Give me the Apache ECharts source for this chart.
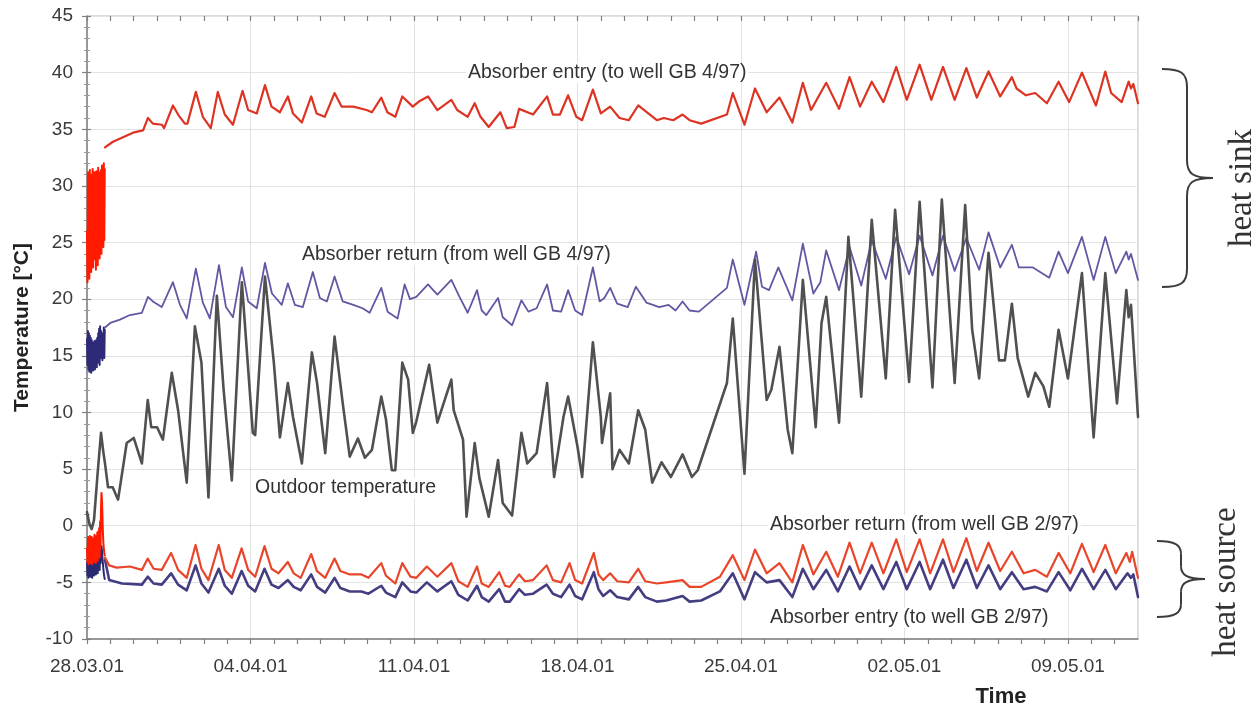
<!DOCTYPE html>
<html>
<head>
<meta charset="utf-8">
<script src="https://cdn.jsdelivr.net/npm/echarts@6/dist/echarts.min.js"></script>
<style>
  html, body { margin: 0; padding: 0; background: #ffffff; }
  #chart { width: 1260px; height: 710px; }
</style>
</head>
<body>
<div id="chart"></div>
<script>
// Time is given in days after 28.03.2001 00:00, temperatures in °C.
const weekLabels = ['28.03.01', '04.04.01', '11.04.01', '18.04.01', '25.04.01', '02.05.01', '09.05.01'];

// Start-up phase: dense, fluctuating readings during the first hours
const startTimes = [0.00,0.02,0.04,0.06,0.08,0.10,0.12,0.14,0.16,0.18,0.20,0.22,0.24,0.26,0.28,0.30,0.32,0.34,0.36,0.38,
  0.40,0.42,0.44,0.46,0.48,0.50,0.52,0.54,0.56,0.58,0.60,0.62,0.64,0.66,0.68,0.70,0.72,0.74,0.76];
const sinkEntryStart = [26.0,21.5,31.2,22.0,30.8,21.8,31.4,23.0,30.6,22.4,31.0,23.2,31.5,22.8,30.9,24.0,31.2,23.5,30.7,22.6,
  31.3,23.8,31.0,23.0,31.6,24.2,30.8,23.6,31.2,24.8,31.4,24.0,31.8,25.0,31.0,24.6,32.0,25.2,31.5];
const sinkReturnStart = [16.5,14.2,17.2,13.8,17.0,13.6,16.8,13.9,16.6,13.5,16.4,14.0,16.2,13.7,16.1,14.1,16.3,13.8,16.0,14.3,
  16.4,14.0,16.6,14.4,17.0,14.6,17.4,14.2,17.6,14.8,17.2,15.0,16.8,14.6,17.0,15.2,17.5,14.8,17.3];
const sourceReturnStart = [-2.0,-3.2,-1.0,-3.4,-1.2,-3.0,-0.9,-3.3,-1.3,-3.1,-1.0,-3.4,-1.4,-2.9,-1.1,-3.2,-0.8,-3.0,-1.2,-3.3,
  -0.9,-2.8,-0.6,-3.1,-0.5,-2.6,-0.2,-2.8,0.4,-1.8,1.5,2.9,2.3,1.0,-0.5,-1.5,-2.0,-2.4,-2.6];
const sourceEntryStart = [-3.2,-4.4,-3.0,-4.6,-3.3,-4.3,-2.9,-4.5,-3.4,-4.2,-3.1,-4.6,-3.5,-4.3,-3.0,-4.4,-3.2,-4.1,-2.8,-4.3,
  -3.3,-4.0,-2.9,-4.2,-3.1,-3.8,-2.7,-3.9,-2.6,-3.3,-2.2,-1.8,-2.2,-2.8,-3.3,-3.8,-4.2,-4.5,-4.7];

// Absorber entry (to well GB 4/97)
const sinkEntry = [[0.77,33.4],[1.11,33.9],[1.54,34.3],[1.97,34.7],[2.4,34.9],[2.61,36.0],[2.82,35.5],[3.21,35.4],[3.3,35.1],
  [3.68,37.1],[3.9,36.3],[4.19,35.5],[4.3,35.5],[4.66,38.3],[4.96,36.1],[5.3,35.1],[5.6,38.3],[5.9,36.3],[6.25,35.4],
  [6.66,38.4],[6.9,36.7],[7.27,36.4],[7.62,38.9],[7.9,37.0],[8.26,36.5],[8.6,37.9],[8.82,36.4],[9.2,35.6],[9.6,37.9],
  [9.83,36.4],[10.18,36.1],[10.6,38.2],[10.9,37.0],[11.4,37.0],[11.97,36.7],[12.2,36.5],[12.6,37.8],[12.86,36.5],
  [13.2,36.1],[13.5,37.9],[13.95,37.0],[14.25,37.5],[14.6,37.9],[15.0,36.7],[15.6,37.6],[15.85,36.7],[16.3,36.1],
  [16.6,37.3],[16.85,36.1],[17.2,35.2],[17.7,36.5],[17.97,35.1],[18.3,35.2],[18.5,36.8],[19.1,36.3],[19.7,37.9],
  [19.95,36.3],[20.25,36.3],[20.6,38.0],[20.95,36.1],[21.2,35.8],[21.66,38.5],[22.0,36.4],[22.4,37.0],[22.8,36.0],
  [23.2,35.8],[23.6,37.1],[24.1,36.3],[24.4,35.8],[24.7,36.0],[25.1,35.8],[25.5,36.3],[25.8,35.8],[26.3,35.5],
  [27.4,36.3],[27.65,38.2],[28.15,35.4],[28.6,38.6],[29.1,36.5],[29.65,37.8],[30.2,35.6],[30.65,39.1],[31.0,36.7],
  [31.65,39.1],[32.2,36.8],[32.65,39.6],[33.1,37.0],[33.6,39.2],[34.1,37.4],[34.65,40.5],[35.1,37.6],[35.65,40.7],
  [36.15,37.6],[36.65,40.5],[37.15,37.6],[37.65,40.4],[38.1,37.8],[38.6,40.1],[39.1,37.9],[39.6,39.6],[39.8,38.6],
  [40.2,38.0],[40.6,38.2],[41.1,37.3],[41.6,39.2],[42.05,37.4],[42.6,40.0],[43.2,37.1],[43.6,40.1],[43.85,38.2],
  [44.3,37.4],[44.6,39.2],[44.7,38.6],[44.8,39.0],[45.0,37.3]];

// Absorber return (from well GB 4/97)
const sinkReturn = [[0.77,17.5],[0.85,17.6],[1.0,17.9],[1.41,18.2],[1.84,18.6],[2.35,18.8],[2.61,20.2],[2.82,19.8],
  [3.2,19.3],[3.68,21.5],[3.98,19.5],[4.27,18.3],[4.66,22.7],[4.96,19.7],[5.26,18.3],[5.65,23.0],[5.95,19.3],
  [6.25,18.4],[6.63,22.8],[6.9,19.8],[7.27,19.2],[7.62,23.2],[7.92,20.5],[8.34,19.5],[8.6,21.4],[8.9,19.5],
  [9.24,19.3],[9.67,22.4],[9.97,20.1],[10.27,19.8],[10.6,22.0],[10.95,19.8],[11.4,19.5],[11.8,19.2],[12.1,18.8],
  [12.6,21.0],[12.87,18.9],[13.3,18.3],[13.6,21.3],[13.83,20.0],[14.1,20.2],[14.6,21.3],[15.0,20.4],[15.6,21.7],
  [15.95,20.2],[16.3,18.8],[16.7,20.8],[16.9,19.0],[17.1,18.6],[17.6,20.1],[17.8,18.4],[18.2,17.7],[18.6,19.9],
  [18.9,18.9],[19.25,19.2],[19.7,21.3],[19.95,19.0],[20.3,18.9],[20.6,20.8],[20.9,19.0],[21.2,18.6],[21.66,22.8],
  [21.95,19.8],[22.15,20.1],[22.4,21.0],[22.7,19.6],[23.15,19.3],[23.5,21.1],[23.95,19.7],[24.5,19.3],[24.9,19.5],
  [25.2,19.0],[25.5,19.8],[25.8,19.0],[26.2,18.9],[27.4,21.0],[27.65,23.5],[28.15,19.5],[28.65,24.2],[28.9,21.1],
  [29.2,20.8],[29.6,22.8],[30.2,19.9],[30.65,24.9],[31.1,20.5],[31.4,21.5],[31.65,24.3],[32.2,20.8],[32.65,24.6],
  [33.15,21.2],[33.6,25.2],[34.2,21.8],[34.65,25.5],[35.2,22.2],[35.65,25.6],[36.2,22.1],[36.65,25.6],[37.15,22.5],
  [37.65,25.4],[38.2,22.6],[38.6,25.9],[39.1,22.8],[39.6,24.8],[39.9,22.8],[40.5,22.8],[41.2,21.9],[41.6,24.2],
  [42.0,22.3],[42.6,25.5],[43.1,21.7],[43.6,25.5],[44.05,22.3],[44.5,24.2],[44.6,23.5],[44.7,24.0],[45.0,21.7]];

// Outdoor temperature
const outdoor = [[0,1.2],[0.1,0.2],[0.2,-0.3],[0.3,0.5],[0.45,4.5],[0.6,8.2],[0.7,6.5],[0.77,5.5],[0.9,3.4],[1.1,3.4],
  [1.33,2.3],[1.7,7.3],[2.0,7.75],[2.35,5.5],[2.6,11.1],[2.75,8.7],[3.0,8.7],[3.25,7.6],[3.63,13.5],[3.9,10.2],
  [4.27,3.8],[4.62,17.6],[4.9,14.4],[5.2,2.5],[5.56,20.3],[5.85,12.0],[6.2,4.0],[6.63,21.5],[7.1,8.2],[7.2,8.0],
  [7.62,22.0],[8.0,14.4],[8.26,7.8],[8.6,12.6],[8.82,9.6],[9.2,5.5],[9.63,15.3],[9.85,12.6],[10.2,6.4],[10.6,16.7],
  [10.95,10.8],[11.25,6.1],[11.6,7.7],[11.9,6.0],[12.2,6.7],[12.6,11.4],[12.8,9.4],[13.05,4.9],[13.2,4.9],[13.5,14.4],
  [13.75,12.9],[13.95,8.2],[14.1,9.2],[14.65,14.2],[15.0,9.1],[15.6,12.9],[15.7,10.2],[16.1,7.6],[16.25,0.8],
  [16.6,7.3],[16.8,4.2],[17.2,0.8],[17.6,5.8],[17.8,2.0],[18.2,0.9],[18.6,8.2],[18.85,5.5],[19.25,6.4],[19.7,12.6],
  [20.0,4.3],[20.4,9.6],[20.6,11.4],[21.0,7.0],[21.2,4.3],[21.66,16.2],[22.0,9.6],[22.05,7.3],[22.4,11.7],[22.5,5.0],
  [22.8,6.7],[23.2,5.5],[23.6,10.2],[23.9,8.5],[24.2,3.8],[24.6,5.6],[25.0,4.3],[25.5,6.3],[25.9,4.3],[26.15,4.9],
  [27.4,12.6],[27.65,18.3],[28.15,4.6],[28.6,23.5],[29.1,11.1],[29.3,12.0],[29.65,15.8],[30.0,8.5],[30.2,6.4],
  [30.65,21.7],[31.2,8.7],[31.45,17.9],[31.65,20.2],[32.2,9.1],[32.6,25.5],[33.15,11.4],[33.6,27.0],[34.2,13.0],
  [34.6,27.9],[35.2,12.7],[35.65,28.6],[36.2,12.2],[36.6,28.8],[37.15,12.6],[37.6,28.3],[37.9,17.3],[38.2,13.0],
  [38.6,24.1],[39.05,14.6],[39.3,14.6],[39.6,19.6],[39.85,14.8],[40.3,11.4],[40.6,13.5],[40.95,12.3],[41.2,10.5],
  [41.6,17.3],[42.0,13.0],[42.6,22.3],[43.1,7.8],[43.6,22.3],[44.1,10.8],[44.5,20.8],[44.6,18.4],[44.7,19.5],[45.0,9.6]];

// Absorber return (from well GB 2/97)
const sourceReturn = [[0.77,-2.8],[0.95,-3.5],[1.27,-3.7],[1.84,-3.6],[2.35,-3.9],[2.6,-2.9],[2.85,-3.8],[3.2,-3.9],
  [3.6,-2.4],[3.9,-3.9],[4.27,-4.6],[4.65,-1.7],[4.9,-3.8],[5.2,-4.8],[5.64,-1.7],[5.9,-3.9],[6.2,-4.6],[6.62,-2.0],
  [6.9,-3.9],[7.2,-4.5],[7.6,-1.8],[7.9,-3.8],[8.2,-4.2],[8.6,-3.2],[8.85,-4.2],[9.15,-4.6],[9.6,-2.5],[9.85,-4.0],
  [10.2,-4.6],[10.6,-2.9],[10.85,-4.0],[11.25,-4.3],[11.75,-4.3],[12.05,-4.6],[12.6,-3.3],[12.8,-4.4],[13.2,-5.1],
  [13.5,-3.3],[13.85,-4.5],[14.1,-4.6],[14.55,-3.6],[15.0,-4.5],[15.6,-3.3],[15.9,-4.9],[16.3,-5.4],[16.7,-3.6],
  [16.9,-5.1],[17.2,-5.4],[17.65,-4.1],[17.9,-5.3],[18.1,-5.4],[18.5,-4.3],[18.75,-4.9],[19.1,-4.8],[19.68,-3.5],
  [19.95,-4.8],[20.3,-5.0],[20.66,-3.3],[20.9,-4.8],[21.2,-5.1],[21.7,-2.4],[21.9,-4.3],[22.1,-4.8],[22.4,-4.2],
  [22.7,-4.9],[23.2,-5.0],[23.6,-3.8],[23.9,-4.9],[24.4,-5.1],[24.8,-5.0],[25.5,-4.8],[25.8,-5.4],[26.3,-5.4],
  [27.1,-4.5],[27.65,-2.6],[28.15,-4.8],[28.6,-2.1],[29.1,-4.2],[29.65,-3.3],[30.2,-5.0],[30.65,-1.7],[31.1,-4.3],
  [31.65,-2.3],[32.15,-4.5],[32.65,-1.5],[33.1,-4.2],[33.6,-1.5],[34.1,-4.2],[34.65,-1.2],[35.1,-4.1],[35.65,-1.2],
  [36.1,-4.2],[36.65,-1.2],[37.1,-4.1],[37.65,-1.1],[38.1,-4.0],[38.6,-1.5],[39.1,-4.0],[39.6,-2.3],[40.1,-4.2],
  [40.6,-3.9],[41.1,-4.5],[41.6,-2.4],[42.1,-4.2],[42.6,-1.6],[43.1,-4.1],[43.6,-1.7],[44.05,-4.2],[44.5,-2.4],
  [44.65,-3.2],[44.75,-2.3],[45.0,-4.6]];

// Absorber entry (to well GB 2/97)
const sourceEntry = [[0.77,-3.0],[0.95,-4.8],[1.5,-5.1],[2.35,-5.2],[2.6,-4.5],[2.85,-5.1],[3.2,-5.2],[3.6,-4.2],
  [3.9,-5.2],[4.27,-5.7],[4.65,-3.5],[4.9,-5.1],[5.2,-5.9],[5.64,-3.8],[5.9,-5.3],[6.2,-6.0],[6.62,-4.0],[6.9,-5.3],
  [7.2,-5.8],[7.6,-3.8],[7.9,-5.2],[8.2,-5.5],[8.6,-4.8],[8.85,-5.4],[9.15,-5.7],[9.6,-4.3],[9.85,-5.4],[10.2,-5.9],
  [10.6,-4.6],[10.85,-5.5],[11.25,-5.8],[11.75,-5.8],[12.05,-6.0],[12.6,-5.3],[12.8,-5.9],[13.2,-6.3],[13.5,-5.0],
  [13.85,-5.8],[14.1,-5.9],[14.55,-5.0],[15.0,-5.8],[15.6,-4.9],[15.9,-6.1],[16.3,-6.6],[16.7,-5.3],[16.9,-6.3],
  [17.2,-6.7],[17.65,-5.6],[17.9,-6.7],[18.1,-6.7],[18.5,-5.6],[18.75,-6.1],[19.1,-6.0],[19.68,-5.2],[19.95,-6.0],
  [20.3,-6.3],[20.66,-5.2],[20.9,-6.2],[21.2,-6.5],[21.7,-4.1],[21.9,-5.6],[22.1,-6.2],[22.4,-5.7],[22.7,-6.3],
  [23.2,-6.5],[23.6,-5.4],[23.9,-6.3],[24.4,-6.7],[24.8,-6.6],[25.5,-6.2],[25.8,-6.7],[26.3,-6.6],[27.1,-5.8],
  [27.65,-4.2],[28.15,-6.5],[28.6,-4.1],[29.1,-5.0],[29.65,-4.8],[30.2,-6.3],[30.65,-3.8],[31.1,-5.6],[31.65,-3.9],
  [32.15,-5.8],[32.65,-3.6],[33.1,-5.6],[33.6,-3.5],[34.1,-5.6],[34.65,-3.2],[35.1,-5.6],[35.65,-3.2],[36.1,-5.6],
  [36.65,-3.0],[37.1,-5.5],[37.65,-3.0],[38.1,-5.5],[38.6,-3.5],[39.1,-5.6],[39.6,-4.1],[40.1,-5.6],[40.6,-5.4],
  [41.1,-5.8],[41.6,-4.1],[42.1,-5.7],[42.6,-3.8],[43.1,-5.6],[43.6,-3.9],[44.05,-5.6],[44.55,-4.2],[44.7,-4.6],
  [44.8,-4.3],[45.0,-6.3]];

const withTimes = (values) => values.map((v, i) => [startTimes[i], v]);

const SANS = 'Liberation Sans, Arial, Helvetica, sans-serif';
const SERIF = 'Liberation Serif, Times New Roman, serif';
const TEXT = '#333333';

const chart = echarts.init(document.getElementById('chart'), null, { renderer: 'canvas' });

const lineSeries = (name, data, color, width, z) => ({
  name, type: 'line', data, xAxisIndex: 0, yAxisIndex: 0,
  showSymbol: false, symbol: 'none', smooth: false, z,
  lineStyle: { color, width, join: 'round', cap: 'round' },
  emphasis: { disabled: true }, silent: true, animation: false
});

// Curly brace built from bezier curves and straight pieces
const BRACE_STYLE = { stroke: '#3c3c3c', lineWidth: 2, fill: null };
function brace(xTip, xMid, xPoint, yTop, yBottom) {
  const yc = (yTop + yBottom) / 2;
  const c = Math.min(18, (yBottom - yTop) / 6);
  return [
    { type: 'bezierCurve', shape: { x1: xTip, y1: yTop, cpx1: xMid - 6, cpy1: yTop, cpx2: xMid, cpy2: yTop + 4, x2: xMid, y2: yTop + c }, style: BRACE_STYLE, silent: true },
    { type: 'line', shape: { x1: xMid, y1: yTop + c, x2: xMid, y2: yc - c }, style: BRACE_STYLE, silent: true },
    { type: 'bezierCurve', shape: { x1: xMid, y1: yc - c, cpx1: xMid, cpy1: yc - 4, cpx2: xMid + 6, cpy2: yc, x2: xPoint, y2: yc }, style: BRACE_STYLE, silent: true },
    { type: 'bezierCurve', shape: { x1: xPoint, y1: yc, cpx1: xMid + 6, cpy1: yc, cpx2: xMid, cpy2: yc + 4, x2: xMid, y2: yc + c }, style: BRACE_STYLE, silent: true },
    { type: 'line', shape: { x1: xMid, y1: yc + c, x2: xMid, y2: yBottom - c }, style: BRACE_STYLE, silent: true },
    { type: 'bezierCurve', shape: { x1: xMid, y1: yBottom - c, cpx1: xMid, cpy1: yBottom - 4, cpx2: xMid - 6, cpy2: yBottom, x2: xTip, y2: yBottom }, style: BRACE_STYLE, silent: true }
  ];
}

// Curve captions sit on a white patch so the grid does not run through them
const caption = (text, x, y) => ({
  type: 'text', x, y, z: 10,
  style: { text, fill: TEXT, fontSize: 19.5, fontFamily: SANS, textVerticalAlign: 'middle', backgroundColor: '#ffffff', padding: [0, 2] }
});

const baseY = { type: 'value', min: -10, max: 45, interval: 5 };
const baseX = { type: 'value', min: 0, max: 45 };

chart.setOption({
  animation: false,
  backgroundColor: '#ffffff',
  grid: { left: 87, right: 122, top: 16, bottom: 71, show: true, borderColor: '#b4b4b4', borderWidth: 1, backgroundColor: 'transparent' },
  xAxis: [
    Object.assign({}, baseX, {
      interval: 1,
      axisLine: { show: true, onZero: false, lineStyle: { color: '#808080', width: 1.5 } },
      axisTick: { show: true, length: 5, lineStyle: { color: '#808080', width: 1.2 } },
      axisLabel: {
        show: true, margin: 18, color: '#3a3a3a', fontSize: 19, fontFamily: SANS,
        showMaxLabel: false,
        formatter: (v) => {
          const k = Math.round(v);
          return (k % 7 === 0 && k / 7 < weekLabels.length) ? weekLabels[k / 7] : '';
        }
      },
      splitLine: { show: false }
    }),
    Object.assign({}, baseX, {
      interval: 1,
      axisLine: { show: false, onZero: false },
      axisTick: { show: true, inside: true, length: 5, lineStyle: { color: '#808080', width: 1.2 } },
      axisLabel: { show: false },
      splitLine: { show: false }
    }),
    Object.assign({}, baseX, {
      interval: 7,
      axisLine: { show: false, onZero: false },
      axisTick: { show: false },
      axisLabel: { show: false },
      splitLine: { show: true, lineStyle: { color: '#e2e2e2', width: 1 } }
    })
  ],
  yAxis: [
    Object.assign({}, baseY, {
      name: 'Temperature [°C]', nameLocation: 'middle', nameGap: 54,
      nameTextStyle: { color: '#222222', fontSize: 21, fontWeight: 'bold', fontFamily: SANS },
      axisLine: { show: true, onZero: false, lineStyle: { color: '#808080', width: 1.5 } },
      axisTick: { show: true, length: 5, lineStyle: { color: '#808080', width: 1.2 } },
      minorTick: { show: true, splitNumber: 5, length: 3, lineStyle: { color: '#999999', width: 1 } },
      axisLabel: { show: true, margin: 14, color: '#3a3a3a', fontSize: 19, fontFamily: SANS },
      splitLine: { show: true, lineStyle: { color: '#e2e2e2', width: 1 } }
    }),
    Object.assign({}, baseY, {
      position: 'left',
      axisLine: { show: false, onZero: false },
      axisTick: { show: true, inside: true, length: 4, lineStyle: { color: '#808080', width: 1.2 } },
      minorTick: { show: true, splitNumber: 5, length: 3, lineStyle: { color: '#999999', width: 1 } },
      axisLabel: { show: false },
      splitLine: { show: false }
    })
  ],
  series: [
    lineSeries('Absorber return (from well GB 4/97) start', withTimes(sinkReturnStart), '#2e2a78', 2, 3),
    lineSeries('Absorber return (from well GB 4/97)', sinkReturn, '#6556a4', 1.8, 3),
    lineSeries('Outdoor temperature', outdoor, '#505050', 2.6, 4),
    lineSeries('Absorber entry (to well GB 4/97) start', withTimes(sinkEntryStart), '#ff1a00', 2, 5),
    lineSeries('Absorber entry (to well GB 4/97)', sinkEntry, '#dd3322', 2.2, 5),
    lineSeries('Absorber entry (to well GB 2/97) start', withTimes(sourceEntryStart), '#2a2a70', 2, 6),
    lineSeries('Absorber entry (to well GB 2/97)', sourceEntry, '#433e82', 2.6, 6),
    lineSeries('Absorber return (from well GB 2/97) start', withTimes(sourceReturnStart), '#ff1a00', 2, 7),
    lineSeries('Absorber return (from well GB 2/97)', sourceReturn, '#e8452b', 2.2, 7)
  ],
  graphic: [
    caption('Absorber entry (to well GB 4/97)', 466, 73),
    caption('Absorber return (from well GB 4/97)', 300, 255),
    caption('Outdoor temperature', 253, 488),
    caption('Absorber return (from well GB 2/97)', 768, 525),
    caption('Absorber entry (to well GB 2/97)', 768, 618),
    { type: 'text', x: 1001, y: 697, style: { text: 'Time', fill: '#222222', fontSize: 22, fontWeight: 'bold', fontFamily: SANS, textAlign: 'center', textVerticalAlign: 'middle' } },
    ...brace(1162, 1187, 1213, 69, 287),
    ...brace(1157, 1181, 1205, 541, 617),
    { type: 'text', x: 1242, y: 188, rotation: Math.PI / 2, style: { text: 'heat sink', fill: '#333333', fontSize: 33, fontFamily: SERIF, textAlign: 'center', textVerticalAlign: 'middle' } },
    { type: 'text', x: 1226, y: 582, rotation: Math.PI / 2, style: { text: 'heat source', fill: '#333333', fontSize: 33, fontFamily: SERIF, textAlign: 'center', textVerticalAlign: 'middle' } }
  ]
});
</script>
</body>
</html>
